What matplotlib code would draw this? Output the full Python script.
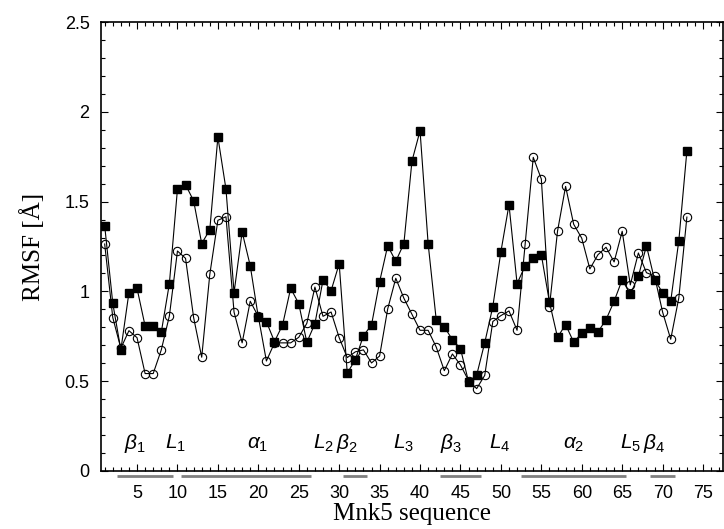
import numpy as np
import matplotlib
matplotlib.use("Agg")
import matplotlib.pyplot as plt
from matplotlib.ticker import MultipleLocator
import matplotlib.transforms as mtransforms

plt.rcParams['font.family'] = 'Liberation Sans'
plt.rcParams['mathtext.fontset'] = 'custom'
plt.rcParams['mathtext.it'] = 'Liberation Sans:italic'
plt.rcParams['mathtext.rm'] = 'Liberation Sans'

# residue index
residue = np.arange(1, 74)

# filled squares
rmsf_sq = [1.366, 0.934, 0.674, 0.993, 1.017, 0.807, 0.807, 0.772, 1.043, 1.570,
           1.594, 1.505, 1.266, 1.344, 1.860, 1.570, 0.993, 1.331, 1.143, 0.856,
           0.831, 0.720, 0.813, 1.017, 0.932, 0.716, 0.820, 1.063, 1.004, 1.154,
           0.544, 0.620, 0.753, 0.813, 1.054, 1.254, 1.168, 1.266, 1.726, 1.895,
           1.266, 0.842, 0.802, 0.731, 0.681, 0.496, 0.533, 0.714, 0.915, 1.221,
           1.483, 1.043, 1.143, 1.184, 1.204, 0.941, 0.744, 0.815, 0.717, 0.767,
           0.795, 0.774, 0.842, 0.945, 1.065, 0.984, 1.084, 1.254, 1.065, 0.993,
           0.945, 1.282, 1.783]

# open circles
rmsf_ci = [1.264, 0.854, 0.683, 0.781, 0.742, 0.542, 0.542, 0.674, 0.863, 1.225,
           1.184, 0.854, 0.633, 1.095, 1.396, 1.416, 0.884, 0.713, 0.945, 0.860,
           0.612, 0.713, 0.713, 0.713, 0.744, 0.822, 1.024, 0.861, 0.885, 0.742,
           0.631, 0.663, 0.674, 0.601, 0.640, 0.902, 1.073, 0.962, 0.872, 0.783,
           0.783, 0.690, 0.558, 0.651, 0.590, 0.503, 0.458, 0.532, 0.832, 0.865,
           0.891, 0.783, 1.264, 1.747, 1.626, 0.913, 1.335, 1.585, 1.374, 1.296,
           1.125, 1.204, 1.246, 1.164, 1.335, 1.036, 1.214, 1.104, 1.086, 0.884,
           0.733, 0.963, 1.414]

# secondary structure elements
ss_names = [r'$\beta_1$', r'$L_1$', r'$\alpha_1$', r'$L_2$', r'$\beta_2$', r'$L_3$',
            r'$\beta_3$', r'$L_4$', r'$\alpha_2$', r'$L_5$', r'$\beta_4$']
ss_name_pos = [4.7, 9.7, 19.9, 28.0, 30.9, 38.0, 43.8, 49.9, 59.0, 66.0, 69.0]
ss_start = [2.5, 10.5, 30.5, 42.5, 52.5, 68.5]
ss_end = [9.5, 26.5, 33.5, 47.5, 65.5, 71.5]

fig = plt.figure(figsize=(7.24, 5.29), dpi=100)
ax = fig.add_axes([0.139, 0.110, 0.860, 0.848])

ax.plot(residue, rmsf_sq, '-', color='black', lw=0.8, marker='s', ms=6,
        mfc='black', mec='black')
ax.plot(residue, rmsf_ci, '-', color='black', lw=0.8, marker='o', ms=6,
        mfc='none', mec='black', mew=0.8)

ax.set_xlim(0.5, 77.5)
ax.set_ylim(0, 2.5)
ax.xaxis.set_minor_locator(MultipleLocator(1))
ax.yaxis.set_minor_locator(MultipleLocator(0.1))
ax.set_xticks(np.arange(5, 80, 5))
ax.set_yticks([0, 0.5, 1, 1.5, 2, 2.5])
ax.set_yticklabels(['0', '0.5', '1', '1.5', '2', '2.5'])
ax.tick_params(which='both', direction='in', top=True, right=True, labelsize=13)
ax.tick_params(which='major', length=5, width=0.8)
ax.tick_params(which='minor', length=3, width=0.8)
ax.tick_params(axis='x', pad=10)
ax.tick_params(axis='y', pad=8)
for s in ax.spines.values():
    s.set_linewidth(1.2)

trans = mtransforms.blended_transform_factory(ax.transData, ax.transAxes)
for a, b in zip(ss_start, ss_end):
    ax.plot([a, b], [-0.011, -0.011], color='#808080', lw=2, transform=trans,
            clip_on=False, solid_capstyle='butt')

for name, xp in zip(ss_names, ss_name_pos):
    ax.text(xp, 0.122, name, ha='center', va='baseline', fontsize=15)

ax.set_xlabel('Mnk5 sequence', family='Liberation Serif', fontsize=18, labelpad=1)
ax.set_ylabel('RMSF [Å]', family='Liberation Serif', fontsize=18, labelpad=14)

fig.savefig('out.png', dpi=100)
